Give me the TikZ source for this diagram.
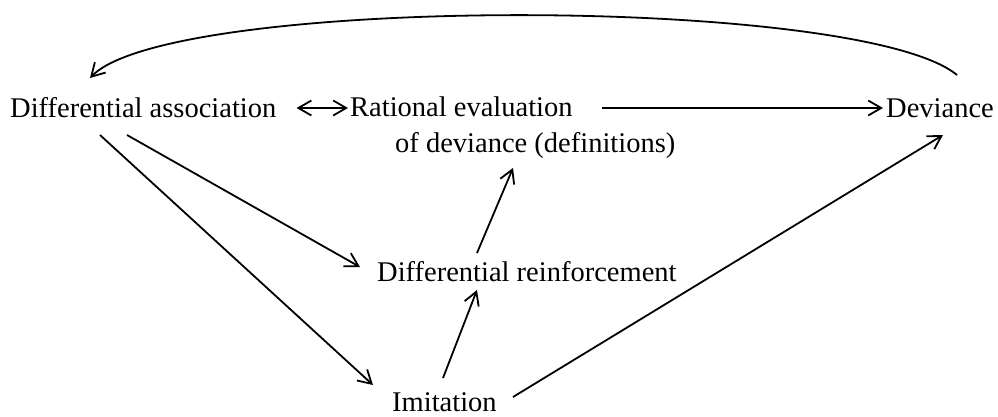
\documentclass[tikz,border=0pt]{standalone}
\usepackage{fontspec}
\setmainfont{Liberation Serif}
\usetikzlibrary{arrows.meta}
\begin{document}
\begin{tikzpicture}[x=1pt,y=-1pt,
  lbl/.style={inner sep=0pt,anchor=base west,font=\fontsize{28.5}{36}\selectfont},
  conn/.style={line width=1.8pt,-{Straight Barb[length=13pt,width=15pt]}},
  dconn/.style={line width=1.8pt,{Straight Barb[length=13pt,width=15pt]}-{Straight Barb[length=13pt,width=15pt]}}]
\useasboundingbox (0,0) rectangle (998,416);
\node[lbl] (da) at (10,117) {Differential association};
\node[lbl,align=left] (re) at (350,152) {Rational evaluation\\\hspace*{45pt}of deviance (definitions)};
\node[lbl] (dev) at (886,117) {Deviance};
\node[lbl] (dr) at (377,281) {Differential reinforcement};
\node[lbl] (im) at (392,411) {Imitation};
\draw[dconn] ([shift={(20,-9)}]da.base east) -- ([shift={(-2,-44)}]re.base west);
\draw[conn] ([shift={(252,-44)}]re.base west) -- ([shift={(-3,-9)}]dev.base west);
\draw[conn] ([shift={(71,-42)}]dev.base west) .. controls (860,-5) and (170,-5) .. ([shift={(80,-39)}]da.base west);
\draw[conn] ([shift={(117,18)}]da.base west) -- ([shift={(-17,-14)}]dr.base west);
\draw[conn] ([shift={(90,18)}]da.base west) -- ([shift={(-19,-26)}]im.base west);
\draw[conn] ([shift={(100,-28)}]dr.base west) -- ([shift={(163,16)}]re.base west);
\draw[conn] ([shift={(51,-33)}]im.base west) -- ([shift={(100,9)}]dr.base west);
\draw[conn] ([shift={(121,-14)}]im.base west) -- ([shift={(57,18)}]dev.base west);
\end{tikzpicture}
\end{document}
